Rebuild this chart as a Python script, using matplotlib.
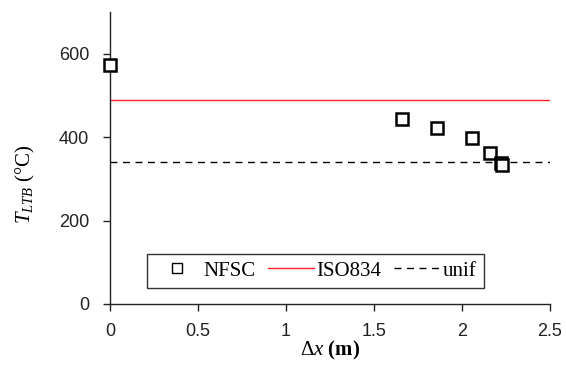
import numpy as np
import matplotlib.pyplot as plt

# NFSC results: critical temperature vs. fire spread distance
dx_nfsc = [0.0, 1.66, 1.86, 2.06, 2.16, 2.22, 2.23]
t_nfsc = [572, 444, 421, 399, 363, 337, 333]

# Reference temperatures
t_iso834 = 490
t_unif = 340

x_ticks = [0, 0.5, 1, 1.5, 2, 2.5]
x_tick_labels = ["0", "0.5", "1", "1.5", "2", "2.5"]
y_ticks = [0, 200, 400, 600]

SERIF = "Liberation Serif"
SANS = "Liberation Sans"

plt.rcParams["mathtext.fontset"] = "custom"
plt.rcParams["mathtext.rm"] = SERIF
plt.rcParams["mathtext.it"] = SERIF + ":italic"
plt.rcParams["mathtext.bf"] = SERIF + ":bold"


def main():
    fig = plt.figure(figsize=(5.66, 3.71), dpi=100)
    ax = fig.add_axes([0.1943, 0.1806, 0.777, 0.787])

    ax.plot(dx_nfsc, t_nfsc, linestyle="none", marker="s", markersize=9,
            markerfacecolor="white", markeredgecolor="black",
            markeredgewidth=1.8, label="NFSC", zorder=3, clip_on=False)
    ax.axhline(t_iso834, color="#ff2020", linewidth=1.0, label="ISO834")
    ax.axhline(t_unif, color="black", linewidth=1.0, linestyle=(0, (5, 4)),
               label="unif")

    ax.set_xlim(0, 2.5)
    ax.set_ylim(0, 700)
    ax.set_xticks(x_ticks)
    ax.set_xticklabels(x_tick_labels)
    ax.set_yticks(y_ticks)

    for side in ("top", "right"):
        ax.spines[side].set_visible(False)
    for side in ("left", "bottom"):
        ax.spines[side].set_linewidth(1.0)
        ax.spines[side].set_color("#222222")
    ax.tick_params(direction="out", length=5, width=1.0, color="#222222",
                   labelsize=13)
    ax.tick_params(axis="y", pad=10)
    ax.tick_params(axis="x", pad=9)
    for lab in ax.get_xticklabels() + ax.get_yticklabels():
        lab.set_family(SANS)
        lab.set_color("#222222")

    ax.set_xlabel(r"$\mathit{\Delta x}$ $\mathbf{(m)}$", fontsize=15,
                  family=SERIF, labelpad=-1)
    ax.set_ylabel(r"$T_{\mathit{LTB}}$ (°C)", fontsize=15, family=SERIF)
    ax.yaxis.set_label_coords(-0.165, 0.41)

    handles, labels = ax.get_legend_handles_labels()
    leg = ax.legend(handles, labels, ncol=3, loc="lower left",
                    bbox_to_anchor=(0.084, 0.055), borderaxespad=0,
                    frameon=True, fancybox=False, edgecolor="black",
                    handlelength=2.2, handletextpad=0.15, columnspacing=0.6,
                    borderpad=0.35, prop={"family": SERIF, "size": 15},
                    markerscale=0.85)
    leg.get_frame().set_linewidth(1.0)
    leg.legend_handles[0].set_markeredgewidth(1.0)

    fig.savefig("out.png", dpi=100)


if __name__ == "__main__":
    main()
